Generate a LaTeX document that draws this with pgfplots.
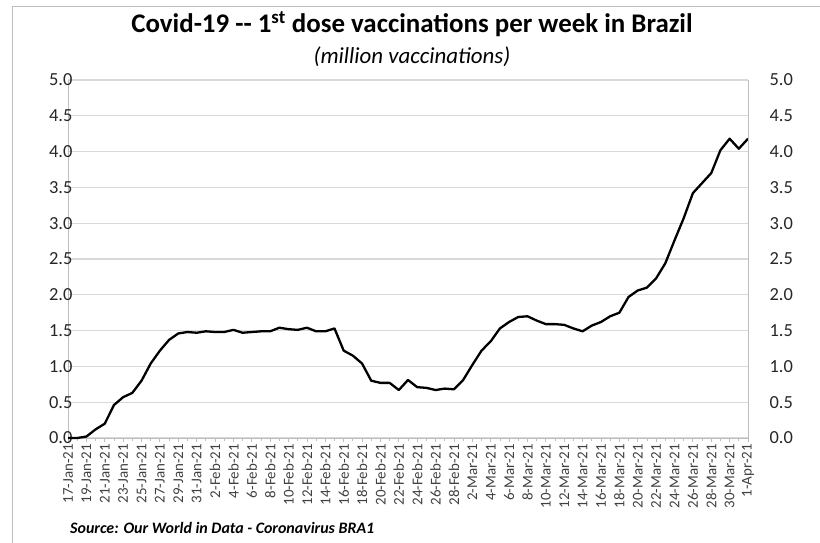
\documentclass[border=0pt]{standalone}
\usepackage{pgfplots}
\pgfplotsset{compat=1.18}
\usepackage{fontspec}
\setmainfont{Carlito}
\definecolor{gridc}{RGB}{217,217,217}
\definecolor{axc}{RGB}{190,190,190}
\definecolor{txt}{RGB}{64,64,64}
\begin{document}
\begin{tikzpicture}[x=1bp,y=1bp]
\path[use as bounding box] (0,0) rectangle (820,543);
\draw[axc, line width=1bp] (12,0) -- (12,536) -- (820,536);
\begin{axis}[
  at={(68bp,105bp)}, anchor=south west,
  scale only axis, width=680bp, height=358bp,
  xmin=0, xmax=74, ymin=0, ymax=5,
  axis line style={axc, line width=0.8bp},
  axis x line*=bottom, axis y line*=left,
  ytick={0,0.5,...,5},
  yticklabels={0.0,0.5,1.0,1.5,2.0,2.5,3.0,3.5,4.0,4.5,5.0},
  yticklabel style={font=\fontsize{18.5}{20}\selectfont, color=black!85, xshift=12bp},
  ymajorgrids, grid style={gridc, line width=1.3bp},
  major y tick style={draw=none},
  xtick={0,2,...,74},
  minor xtick={1,3,...,73},
  tick align=outside,
  major tick length=4bp, minor tick length=3bp,
  x tick style={axc, line width=0.8bp},
  xticklabels={17-Jan-21,19-Jan-21,21-Jan-21,23-Jan-21,25-Jan-21,27-Jan-21,29-Jan-21,31-Jan-21,2-Feb-21,4-Feb-21,6-Feb-21,8-Feb-21,10-Feb-21,12-Feb-21,14-Feb-21,16-Feb-21,18-Feb-21,20-Feb-21,22-Feb-21,24-Feb-21,26-Feb-21,28-Feb-21,2-Mar-21,4-Mar-21,6-Mar-21,8-Mar-21,10-Mar-21,12-Mar-21,14-Mar-21,16-Mar-21,18-Mar-21,20-Mar-21,22-Mar-21,24-Mar-21,26-Mar-21,28-Mar-21,30-Mar-21,1-Apr-21},
  xticklabel style={rotate=90, anchor=east, font=\fontsize{15}{16}\selectfont, color=txt, inner sep=2bp},
  clip=false,
]
\addplot[black, line width=2.3bp, line join=round] table {
x y
0 0.00
1 0.00
2 0.02
3 0.12
4 0.20
5 0.46
6 0.57
7 0.63
8 0.80
9 1.04
10 1.22
11 1.37
12 1.46
13 1.48
14 1.47
15 1.49
16 1.48
17 1.48
18 1.51
19 1.47
20 1.48
21 1.49
22 1.49
23 1.54
24 1.52
25 1.51
26 1.54
27 1.49
28 1.49
29 1.53
30 1.22
31 1.15
32 1.04
33 0.80
34 0.77
35 0.77
36 0.67
37 0.81
38 0.71
39 0.70
40 0.67
41 0.69
42 0.68
43 0.81
44 1.02
45 1.22
46 1.35
47 1.53
48 1.62
49 1.69
50 1.70
51 1.64
52 1.59
53 1.59
54 1.58
55 1.53
56 1.49
57 1.57
58 1.62
59 1.70
60 1.75
61 1.97
62 2.06
63 2.10
64 2.23
65 2.44
66 2.76
67 3.07
68 3.42
69 3.56
70 3.70
71 4.02
72 4.18
73 4.04
74 4.18
};
\end{axis}
\begin{axis}[
  at={(68bp,105bp)}, anchor=south west,
  scale only axis, width=680bp, height=358bp,
  xmin=0, xmax=74, ymin=0, ymax=5,
  axis x line=none,
  axis y line*=right,
  axis line style={axc, line width=0.8bp},
  ytick={0,0.5,...,5},
  yticklabels={0.0,0.5,1.0,1.5,2.0,2.5,3.0,3.5,4.0,4.5,5.0},
  yticklabel style={font=\fontsize{18.5}{20}\selectfont, color=black!85, xshift=18bp},
  major y tick style={draw=none},
]
\addplot[draw=none] coordinates {(0,0)};
\end{axis}
\node[anchor=base, font=\bfseries\fontsize{27}{30}\selectfont] at (412,510) {Covid-19 {-}{-} 1\textsuperscript{st} dose vaccinations per week in Brazil};
\node[anchor=base, font=\itshape\fontsize{23}{26}\selectfont] at (412,479) {(million vaccinations)};
\node[anchor=base west, font=\bfseries\itshape\fontsize{16}{18}\selectfont, inner sep=0] at (70,9) {Source: Our World in Data - Coronavirus BRA1};
\end{tikzpicture}
\end{document}
